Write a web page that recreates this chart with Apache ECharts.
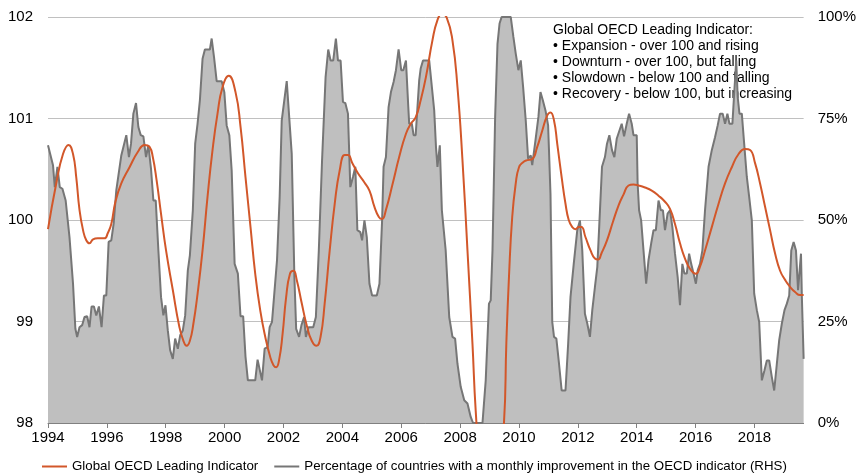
<!DOCTYPE html>
<html>
<head>
<meta charset="utf-8">
<script src="https://cdn.jsdelivr.net/npm/echarts/dist/echarts.min.js"></script>
<style>
	html, body { margin: 0; padding: 0; background: #fff; }
	#chart { width: 859px; height: 473px; }
</style>
</head>
<body>
<div id="chart"></div>
<script>
// 坐标轴刻度
var yearTicks = [1994, 1996, 1998, 2000, 2002, 2004, 2006, 2008, 2010, 2012, 2014, 2016, 2018];

// 灰色面积：每月改善国家占比 (%)
var pctYears = [
	1994.00, 1994.17, 1994.23, 1994.32, 1994.40, 1994.49, 1994.60, 1994.73, 1994.85, 1994.93,
	1994.99, 1995.07, 1995.16, 1995.24, 1995.33, 1995.41, 1995.48, 1995.56, 1995.64, 1995.73,
	1995.82, 1995.90, 1995.98, 1996.06, 1996.15, 1996.23, 1996.32, 1996.49, 1996.66, 1996.75,
	1996.82, 1996.90, 1996.99, 1997.07, 1997.15, 1997.24, 1997.33, 1997.41, 1997.50, 1997.58,
	1997.66, 1997.75, 1997.84, 1997.92, 1997.99, 1998.07, 1998.15, 1998.24, 1998.32, 1998.41,
	1998.49, 1998.58, 1998.66, 1998.75, 1998.82, 1998.92, 1999.00, 1999.08, 1999.16, 1999.25,
	1999.33, 1999.50, 1999.56, 1999.64, 1999.73, 1999.90, 1999.99, 2000.07, 2000.16, 2000.24,
	2000.34, 2000.45, 2000.54, 2000.63, 2000.71, 2000.79, 2001.04, 2001.12, 2001.27, 2001.36,
	2001.46, 2001.53, 2001.61, 2001.78, 2001.87, 2001.94, 2002.11, 2002.28, 2002.37, 2002.43,
	2002.53, 2002.61, 2002.70, 2002.76, 2002.85, 2003.01, 2003.10, 2003.20, 2003.31, 2003.43,
	2003.52, 2003.60, 2003.69, 2003.78, 2003.85, 2003.94, 2004.02, 2004.10, 2004.19, 2004.27,
	2004.36, 2004.44, 2004.51, 2004.61, 2004.67, 2004.75, 2004.83, 2004.92, 2005.01, 2005.17,
	2005.26, 2005.35, 2005.40, 2005.48, 2005.57, 2005.65, 2005.74, 2005.82, 2005.91, 2006.00,
	2006.07, 2006.16, 2006.24, 2006.27, 2006.36, 2006.42, 2006.49, 2006.61, 2006.66, 2006.74,
	2006.95, 2007.12, 2007.18, 2007.23, 2007.31, 2007.38, 2007.51, 2007.63, 2007.74, 2007.83,
	2007.91, 2008.02, 2008.14, 2008.25, 2008.36, 2008.44, 2008.76, 2008.87, 2008.98, 2009.04,
	2009.10, 2009.19, 2009.27, 2009.34, 2009.41, 2009.72, 2009.81, 2009.89, 2009.98, 2010.06,
	2010.14, 2010.23, 2010.31, 2010.40, 2010.45, 2010.51, 2010.56, 2010.66, 2010.73, 2010.81,
	2010.90, 2010.99, 2011.07, 2011.13, 2011.19, 2011.27, 2011.36, 2011.45, 2011.58, 2011.67,
	2011.75, 2011.86, 2011.98, 2012.07, 2012.15, 2012.24, 2012.32, 2012.41, 2012.49, 2012.58,
	2012.66, 2012.73, 2012.82, 2012.92, 2012.99, 2013.07, 2013.16, 2013.24, 2013.32, 2013.49,
	2013.57, 2013.66, 2013.74, 2013.83, 2013.89, 2014.00, 2014.03, 2014.08, 2014.15, 2014.23,
	2014.32, 2014.40, 2014.49, 2014.57, 2014.65, 2014.74, 2014.82, 2014.89, 2014.96, 2015.05,
	2015.13, 2015.21, 2015.30, 2015.39, 2015.47, 2015.55, 2015.62, 2015.70, 2015.78, 2015.85,
	2015.93, 2016.01, 2016.07, 2016.15, 2016.23, 2016.32, 2016.44, 2016.55, 2016.66, 2016.75,
	2016.83, 2016.92, 2017.00, 2017.08, 2017.15, 2017.25, 2017.31, 2017.38, 2017.43, 2017.49,
	2017.57, 2017.65, 2017.74, 2017.82, 2017.91, 2017.99, 2018.08, 2018.16, 2018.25, 2018.34,
	2018.42, 2018.50, 2018.59, 2018.67, 2018.76, 2018.84, 2018.93, 2019.02, 2019.10, 2019.18,
	2019.25, 2019.33, 2019.41, 2019.48, 2019.52, 2019.58, 2019.61, 2019.67
];
var pctValues = [
	68.4, 63.5, 58.1, 63.1, 58.1, 57.7, 54.8, 45.8, 34.3, 23.2,
	21.2, 23.6, 24.1, 26.1, 26.3, 23.6, 28.7, 28.7, 26.5, 28.7,
	23.6, 31.4, 31.4, 44.6, 45.0, 49.1, 57.3, 65.9, 70.9, 65.5,
	68.8, 76.2, 78.8, 72.9, 70.9, 70.6, 65.5, 68.4, 62.6, 54.8,
	54.8, 42.5, 31.0, 26.5, 29.0, 22.8, 17.9, 15.8, 20.8, 18.3,
	21.6, 22.8, 26.5, 37.6, 41.3, 52.4, 68.8, 73.7, 79.5, 89.7,
	92.0, 92.0, 94.7, 90.1, 84.2, 84.2, 81.5, 73.3, 70.9, 62.2,
	39.2, 36.8, 26.3, 26.3, 16.3, 10.5, 10.5, 15.6, 10.5, 18.3,
	18.7, 23.6, 24.9, 40.1, 55.7, 74.5, 84.2, 66.3, 36.0, 23.2,
	21.2, 24.1, 26.1, 21.2, 23.6, 23.6, 26.1, 42.5, 64.7, 85.2,
	92.0, 89.3, 89.3, 94.7, 89.3, 89.3, 79.1, 78.8, 76.2, 58.1,
	60.6, 63.1, 47.5, 47.0, 45.0, 49.9, 45.8, 34.3, 31.4, 31.4,
	34.3, 49.9, 63.1, 65.5, 77.8, 81.5, 84.0, 86.9, 92.0, 86.9,
	86.9, 89.3, 77.8, 73.7, 73.7, 70.9, 70.9, 84.4, 87.3, 89.3,
	89.3, 77.0, 68.0, 63.1, 68.4, 52.4, 42.5, 26.1, 21.2, 20.8,
	14.6, 8.9, 5.6, 4.8, 1.5, 0, 0, 10.5, 29.4, 30.2,
	42.5, 75.4, 93.4, 98.4, 100, 100, 95.1, 91.0, 86.9, 89.3,
	82.8, 74.5, 65.1, 65.9, 63.5, 63.9, 69.6, 75.4, 81.5, 79.5,
	77.0, 73.3, 56.5, 24.9, 21.2, 20.8, 14.6, 8.0, 8.0, 19.5,
	31.0, 39.2, 47.5, 49.9, 42.5, 26.9, 24.5, 21.2, 27.8, 33.5,
	38.4, 49.1, 63.1, 65.5, 68.8, 70.9, 67.2, 65.5, 70.0, 73.7,
	70.6, 73.7, 76.2, 73.7, 70.9, 70.9, 59.1, 52.4, 49.9, 42.5,
	34.3, 40.1, 44.2, 47.5, 47.5, 54.8, 52.4, 52.4, 47.5, 51.6,
	52.4, 48.3, 41.7, 36.0, 29.0, 39.2, 36.8, 36.8, 41.7, 39.2,
	36.8, 34.3, 37.6, 39.2, 42.5, 52.4, 63.1, 67.2, 70.4, 73.3,
	76.2, 76.2, 73.7, 76.2, 73.7, 73.7, 81.1, 89.3, 80.3, 76.2,
	76.2, 68.8, 60.6, 55.7, 49.9, 31.9, 27.8, 24.9, 10.5, 13.0,
	15.4, 15.4, 11.3, 8.0, 14.6, 20.4, 24.5, 27.8, 29.4, 31.4,
	42.5, 44.6, 42.5, 32.7, 32.7, 41.7, 31.0, 15.8
];

// 橙色折线：OECD 综合领先指标
var cliYears = [
	1994.00, 1994.28, 1994.51, 1994.70, 1994.85, 1994.96, 1995.07, 1995.19, 1995.30, 1995.41,
	1995.53, 1995.69, 1995.92, 1996.03, 1996.15, 1996.29, 1996.49, 1996.77, 1997.05, 1997.28,
	1997.45, 1997.56, 1997.69, 1997.84, 1998.01, 1998.24, 1998.46, 1998.60, 1998.71, 1998.82,
	1998.94, 1999.08, 1999.25, 1999.42, 1999.59, 1999.76, 1999.93, 2000.14, 2000.37, 2000.54,
	2000.71, 2000.88, 2001.04, 2001.21, 2001.38, 2001.55, 2001.66, 2001.75, 2001.85, 2001.97,
	2002.09, 2002.22, 2002.34, 2002.45, 2002.62, 2002.79, 2002.96, 2003.12, 2003.26, 2003.40,
	2003.57, 2003.74, 2003.91, 2004.08, 2004.19, 2004.34, 2004.53, 2004.75, 2004.92, 2005.09,
	2005.24, 2005.35, 2005.48, 2005.71, 2005.93, 2006.16, 2006.33, 2006.49, 2006.66, 2006.84,
	2007.06, 2007.23, 2007.38, 2007.55, 2007.74, 2007.91, 2008.08, 2008.25, 2008.42, 2008.53,
	2008.70, 2008.95, 2009.20, 2009.49, 2009.57, 2009.66, 2009.77, 2009.89, 2010.00, 2010.14,
	2010.28, 2010.45, 2010.62, 2010.79, 2010.96, 2011.07, 2011.19, 2011.30, 2011.45, 2011.58,
	2011.69, 2011.81, 2011.92, 2012.03, 2012.12, 2012.26, 2012.43, 2012.58, 2012.69, 2012.80,
	2012.99, 2013.19, 2013.39, 2013.55, 2013.72, 2013.89, 2014.06, 2014.28, 2014.51, 2014.74,
	2014.96, 2015.13, 2015.30, 2015.47, 2015.64, 2015.81, 2016.01, 2016.15, 2016.32, 2016.55,
	2016.78, 2017.00, 2017.23, 2017.46, 2017.68, 2017.85, 2018.02, 2018.19, 2018.36, 2018.53,
	2018.70, 2018.87, 2019.04, 2019.21, 2019.38, 2019.55, 2019.67
];
var cliValues = [
	99.91, 100.36, 100.65, 100.74, 100.65, 100.42, 100.10, 99.90, 99.80, 99.77,
	99.81, 99.82, 99.82, 99.87, 99.96, 100.18, 100.36, 100.52, 100.67, 100.74,
	100.72, 100.62, 100.39, 100.06, 99.70, 99.31, 98.95, 98.81, 98.76, 98.81,
	98.98, 99.27, 99.70, 100.23, 100.69, 101.05, 101.31, 101.42, 101.26, 100.92,
	100.42, 99.93, 99.47, 99.11, 98.85, 98.65, 98.57, 98.55, 98.62, 98.88,
	99.24, 99.47, 99.50, 99.41, 99.18, 98.96, 98.81, 98.76, 98.85, 99.18,
	99.70, 100.16, 100.49, 100.64, 100.64, 100.56, 100.46, 100.37, 100.29, 100.13,
	100.03, 100.01, 100.10, 100.36, 100.62, 100.85, 100.95, 101.01, 101.18, 101.41,
	101.77, 101.97, 102.03, 101.99, 101.77, 101.31, 100.59, 99.70, 98.78, 98.12,
	97.50, 97.10, 97.40, 98.00, 98.78, 99.44, 100.03, 100.36, 100.52, 100.57,
	100.59, 100.60, 100.72, 100.88, 101.03, 101.06, 100.98, 100.75, 100.42, 100.16,
	100.00, 99.93, 99.91, 99.93, 99.93, 99.83, 99.70, 99.62, 99.61, 99.67,
	99.80, 99.98, 100.15, 100.25, 100.34, 100.35, 100.34, 100.32, 100.29, 100.24,
	100.18, 100.11, 99.96, 99.77, 99.62, 99.52, 99.47, 99.54, 99.70, 99.93,
	100.16, 100.36, 100.52, 100.65, 100.70, 100.69, 100.56, 100.36, 100.13, 99.90,
	99.67, 99.50, 99.41, 99.34, 99.29, 99.26, 99.26
];

// 右上角说明文字
var noteLines = [
	'Global OECD Leading Indicator:',
	'\u2022 Expansion - over 100 and rising',
	'\u2022 Downturn - over 100, but falling',
	'\u2022 Slowdown - below 100 and falling',
	'\u2022 Recovery - below 100, but increasing'
];

var cliName = 'Global OECD Leading Indicator';
var pctName = 'Percentage of countries with a monthly improvement in the OECD indicator (RHS)';

var fontFamily = '"Liberation Sans", Arial, sans-serif';

function zip(xs, ys) {
	var out = [];
	for (var i = 0; i < xs.length; i++) {
		out.push([xs[i], ys[i]]);
	}
	return out;
}

var noteGraphics = noteLines.map(function(line, i) {
	return {
		type: 'text',
		left: 553,
		top: 23 + i * 16,
		style: {
			text: line,
			fill: '#000',
			font: '14px ' + fontFamily
		}
	};
});

var myChart = echarts.init(document.getElementById('chart'));
var option = {
	animation: false,
	textStyle: { fontFamily: fontFamily },
	grid: { left: 48, right: 54, top: 17, bottom: 50 },
	legend: {
		top: 455,
		left: 37,
		icon: 'rect',
		itemWidth: 25,
		itemHeight: 2,
		itemGap: 16,
		textStyle: { fontSize: 13.3, color: '#000', fontFamily: fontFamily },
		data: [cliName, pctName]
	},
	graphic: noteGraphics,
	xAxis: {
		type: 'value',
		min: 1994,
		max: 2019.67,
		interval: 2,
		axisLine: { lineStyle: { color: '#808080', width: 1 } },
		axisTick: { show: true, length: 5, customValues: yearTicks, lineStyle: { color: '#808080' } },
		axisLabel: {
			customValues: yearTicks,
			fontSize: 15,
			color: '#000',
			margin: 7,
			formatter: function(v) { return String(v); }
		},
		splitLine: { show: false }
	},
	yAxis: [
		{
			type: 'value',
			min: 98,
			max: 102,
			interval: 1,
			axisLine: { show: false },
			axisTick: { show: false },
			axisLabel: { fontSize: 15, color: '#000', margin: 15 },
			splitLine: { lineStyle: { color: '#c0c0c0', width: 1 } }
		},
		{
			type: 'value',
			min: 0,
			max: 100,
			interval: 25,
			axisLine: { show: false },
			axisTick: { show: false },
			axisLabel: { fontSize: 15, color: '#000', margin: 14, formatter: '{value}%' },
			splitLine: { show: false }
		}
	],
	series: [
		{
			name: pctName,
			type: 'line',
			yAxisIndex: 1,
			symbol: 'none',
			data: zip(pctYears, pctValues),
			lineStyle: { color: '#767676', width: 2 },
			itemStyle: { color: '#767676' },
			areaStyle: { color: '#bfbfbf', opacity: 1 },
			z: 2
		},
		{
			name: cliName,
			type: 'line',
			yAxisIndex: 0,
			symbol: 'none',
			smooth: 0.5,
			clip: true,
			data: zip(cliYears, cliValues),
			lineStyle: { color: '#d2572a', width: 2 },
			itemStyle: { color: '#d2572a' },
			z: 3
		}
	]
};
myChart.setOption(option);
</script>
</body>
</html>
